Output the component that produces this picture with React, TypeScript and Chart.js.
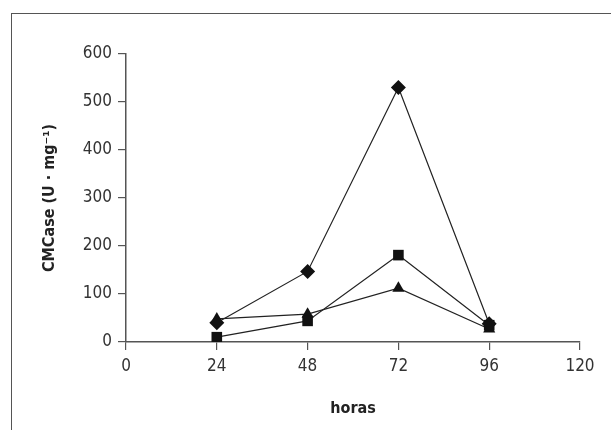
import React, { useEffect, useRef } from "react";
import { Chart, registerables } from "chart.js";

Chart.register(...registerables);

const hours = [24, 48, 72, 96];
const xTicks = [0, 24, 48, 72, 96, 120];
const yTicks = [0, 100, 200, 300, 400, 500, 600];
const seriesDiamond = [40, 147, 530, 38];
const seriesSquare = [10, 44, 181, 35];
const seriesTriangle = [48, 58, 112, 27];

const FONT = "'Liberation Sans Narrow', 'DejaVu Sans Condensed', 'Open Sans', sans-serif";

export default function App() {
  const ref = useRef<HTMLCanvasElement | null>(null);
  useEffect(() => {
    if (!ref.current) return;
    const mk = (vals: number[]) => vals.map((v, i) => ({ x: hours[i], y: v }));
    const common = {
      borderColor: "#222",
      borderWidth: 1.2,
      backgroundColor: "#111",
      pointBackgroundColor: "#111",
      pointBorderColor: "#111",
      pointBorderWidth: 0,
      showLine: true,
      fill: false,
      tension: 0,
    };
    const chart = new Chart(ref.current, {
      type: "scatter",
      data: {
        datasets: [
          { ...common, label: "A", data: mk(seriesDiamond), pointStyle: "rectRot", pointRadius: 7.5 },
          { ...common, label: "B", data: mk(seriesSquare), pointStyle: "rect", pointRadius: 7.5 },
          { ...common, label: "C", data: mk(seriesTriangle), pointStyle: "triangle", pointRadius: 7 },
        ],
      },
      options: {
        responsive: false,
        animation: false,
        layout: { padding: { top: 54, right: 31, bottom: 0, left: 0 } },
        plugins: { legend: { display: false }, tooltip: { enabled: false } },
        scales: {
          x: {
            type: "linear",
            min: xTicks[0],
            max: xTicks[xTicks.length - 1],
            afterBuildTicks: (s: any) => { s.ticks = xTicks.map((v) => ({ value: v })); },
            afterFit: (s: any) => { s.height = 88; },
            ticks: { color: "#333", font: { family: FONT, size: 17 }, padding: 6, maxRotation: 0, autoSkip: false },
            grid: { drawOnChartArea: false, drawTicks: true, tickLength: 8, color: "#555", lineWidth: 1.2 },
            border: { display: true, color: "#555", width: 1.5 },
            title: { display: true, text: "horas", color: "#222", font: { family: FONT, size: 16, weight: "bold" }, padding: { top: 0, bottom: 12 } },
          },
          y: {
            min: yTicks[0],
            max: yTicks[yTicks.length - 1],
            afterBuildTicks: (s: any) => { s.ticks = yTicks.map((v) => ({ value: v })); },
            afterFit: (s: any) => { s.width = 126; },
            ticks: { color: "#333", font: { family: FONT, size: 17 }, padding: 6 },
            grid: { drawOnChartArea: false, drawTicks: true, tickLength: 8, color: "#555", lineWidth: 1.2 },
            border: { display: true, color: "#555", width: 1.5 },
            title: { display: true, text: "CMCase (U · mg\u207B\u00B9)", color: "#222", font: { family: FONT, size: 16, weight: "bold" }, padding: { top: 40, bottom: 0 } },
          },
        },
      },
    } as any);
    return () => chart.destroy();
  }, []);
  return (
    <div style={{ position: "absolute", left: 0, top: 0, width: 611, height: 430, background: "#fff", overflow: "hidden" }}>
      <div style={{ position: "absolute", left: 11, top: 13, width: 640, height: 460, borderLeft: "1.5px solid #555", borderTop: "1.5px solid #555" }} />
      <canvas ref={ref} width={611} height={430} style={{ position: "absolute", left: 0, top: 0 }} />
    </div>
  );
}
